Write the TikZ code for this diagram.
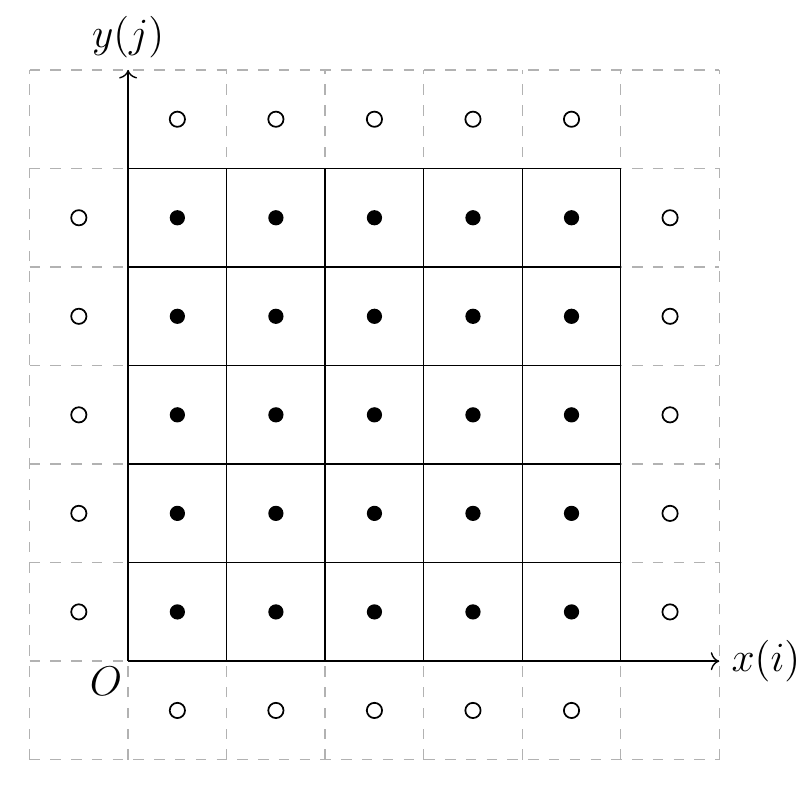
\documentclass[tikz,border=0pt]{standalone}
\usepackage{amsmath}
\usetikzlibrary{arrows.meta}
\begin{document}
\begin{tikzpicture}[
  ghostline/.style={gray!60,dashed,line width=0.4pt},
  cellline/.style={black,line width=0.4pt},
  axis/.style={->,line width=0.4pt},
  inpt/.style={circle,fill=black,inner sep=0pt,minimum size=4.4pt},
  ghpt/.style={circle,draw=black,fill=white,inner sep=0pt,minimum size=4.4pt,line width=0.5pt},
  axlabel/.style={font=\large},
]
\useasboundingbox (-1.3,-1.4) rectangle (6.9,6.71);

%% ghost layer
\draw[ghostline] (-1,-1) grid (6,6);

%% computational cells
\draw[cellline] (0,0) grid (5,5);

%% cell centres
\foreach \i in {1,...,5}
  \foreach \j in {1,...,5}
    \node[inpt] (p\i\j) at (\i-0.5,\j-0.5) {};

%% ghost centres
\foreach \k in {1,...,5} {
  \node[ghpt] (gb\k) at (\k-0.5,-0.5) {};
  \node[ghpt] (gt\k) at (\k-0.5,5.5) {};
  \node[ghpt] (gl\k) at (-0.5,\k-0.5) {};
  \node[ghpt] (gr\k) at (5.5,\k-0.5) {};
}

%% axes
\coordinate (O) at (0,0);
\coordinate (xend) at (6,0);
\coordinate (yend) at (0,6);
\draw[axis] (O) -- (xend);
\draw[axis] (O) -- (yend);
\node[axlabel,anchor=west] (xl) at (xend) {$x(i)$};
\node[axlabel,anchor=south] (yl) at (yend) {$y(j)$};
\node[axlabel,anchor=north east,inner sep=1.5pt] (ol) at (O) {$O$};
\end{tikzpicture}
\end{document}
